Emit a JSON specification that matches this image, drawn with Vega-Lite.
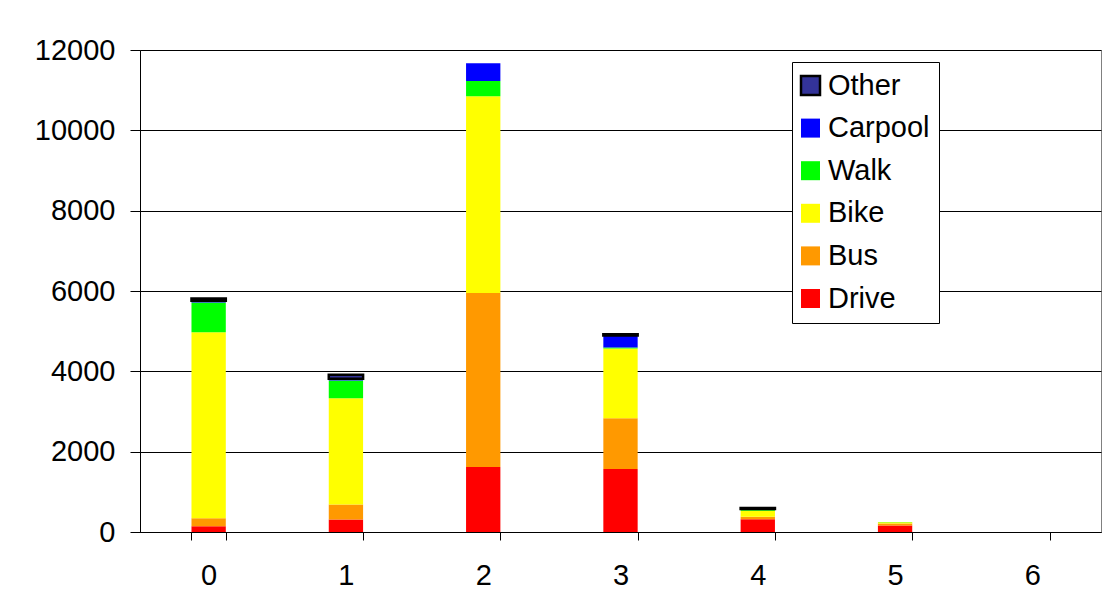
{
  "$schema": "https://vega.github.io/schema/vega-lite/v6.json",
  "autosize": {"type": "none"},
  "width": 961,
  "height": 482,
  "padding": {"left": 140, "top": 50, "right": 6, "bottom": 83},
  "background": "white",
  "config": {
    "font": "Liberation Sans",
    "view": {"stroke": "#808080", "strokeWidth": 1},
    "axis": {"labelFont": "Liberation Sans", "labelFontSize": 29, "labelColor": "black", "domainColor": "black", "tickColor": "black", "title": null}
  },
  "data": {
    "values": [
      {"hour": "0", "mode": "Drive", "value": 145},
      {"hour": "0", "mode": "Bus", "value": 200},
      {"hour": "0", "mode": "Bike", "value": 4630},
      {"hour": "0", "mode": "Walk", "value": 740},
      {"hour": "0", "mode": "Carpool", "value": 40},
      {"hour": "0", "mode": "Other", "value": 60},
      {"hour": "1", "mode": "Drive", "value": 310},
      {"hour": "1", "mode": "Bus", "value": 375},
      {"hour": "1", "mode": "Bike", "value": 2645},
      {"hour": "1", "mode": "Walk", "value": 440},
      {"hour": "1", "mode": "Carpool", "value": 45},
      {"hour": "1", "mode": "Other", "value": 100},
      {"hour": "2", "mode": "Drive", "value": 1620},
      {"hour": "2", "mode": "Bus", "value": 4330},
      {"hour": "2", "mode": "Bike", "value": 4900},
      {"hour": "2", "mode": "Walk", "value": 380},
      {"hour": "2", "mode": "Carpool", "value": 440},
      {"hour": "3", "mode": "Drive", "value": 1570},
      {"hour": "3", "mode": "Bus", "value": 1260},
      {"hour": "3", "mode": "Bike", "value": 1740},
      {"hour": "3", "mode": "Walk", "value": 25},
      {"hour": "3", "mode": "Carpool", "value": 300},
      {"hour": "3", "mode": "Other", "value": 30},
      {"hour": "4", "mode": "Drive", "value": 320},
      {"hour": "4", "mode": "Bus", "value": 60},
      {"hour": "4", "mode": "Bike", "value": 150},
      {"hour": "4", "mode": "Walk", "value": 20},
      {"hour": "4", "mode": "Carpool", "value": 20},
      {"hour": "4", "mode": "Other", "value": 30},
      {"hour": "5", "mode": "Drive", "value": 160},
      {"hour": "5", "mode": "Bus", "value": 50},
      {"hour": "5", "mode": "Bike", "value": 30},
      {"hour": "5", "mode": "Walk", "value": 10}
    ]
  },
  "transform": [
    {"calculate": "indexof(['Drive','Bus','Bike','Walk','Carpool','Other'], datum.mode)", "as": "ord"}
  ],
  "mark": {"type": "bar", "strokeWidth": 2.5},
  "encoding": {
    "x": {
      "field": "hour",
      "type": "ordinal",
      "scale": {"domain": ["0", "1", "2", "3", "4", "5", "6"], "paddingInner": 0.75, "paddingOuter": 0.375},
      "axis": {"labelAngle": 0, "tickBand": "extent", "tickSize": 8, "labelPadding": 21, "grid": false}
    },
    "y": {
      "field": "value",
      "type": "quantitative",
      "stack": "zero",
      "scale": {"domain": [0, 12000], "nice": false},
      "axis": {"values": [0, 2000, 4000, 6000, 8000, 10000, 12000], "format": "d", "tickSize": 10, "labelPadding": 15, "grid": true, "gridColor": "black", "gridWidth": 1}
    },
    "color": {
      "field": "mode",
      "type": "nominal",
      "sort": ["Other", "Carpool", "Walk", "Bike", "Bus", "Drive"],
      "scale": {"domain": ["Other", "Carpool", "Walk", "Bike", "Bus", "Drive"], "range": ["#333399", "#0000FF", "#00FF00", "#FFFF00", "#FF9900", "#FF0000"]},
      "legend": {
        "title": null,
        "orient": "none",
        "legendX": 652,
        "legendY": 12,
        "padding": 9,
        "fillColor": "white",
        "strokeColor": "black",
        "symbolType": "square",
        "symbolSize": 361,
        "symbolOffset": -5,
        "symbolStrokeWidth": 2.5,
        "labelFont": "Liberation Sans",
        "labelFontSize": 29,
        "labelColor": "black",
        "labelOffset": 3,
        "rowPadding": 12.6
      }
    },
    "stroke": {
      "field": "mode",
      "type": "nominal",
      "sort": ["Other", "Carpool", "Walk", "Bike", "Bus", "Drive"],
      "scale": {"domain": ["Other", "Carpool", "Walk", "Bike", "Bus", "Drive"], "range": ["black", "transparent", "transparent", "transparent", "transparent", "transparent"]}
    },
    "order": {"field": "ord", "type": "quantitative"}
  }
}
